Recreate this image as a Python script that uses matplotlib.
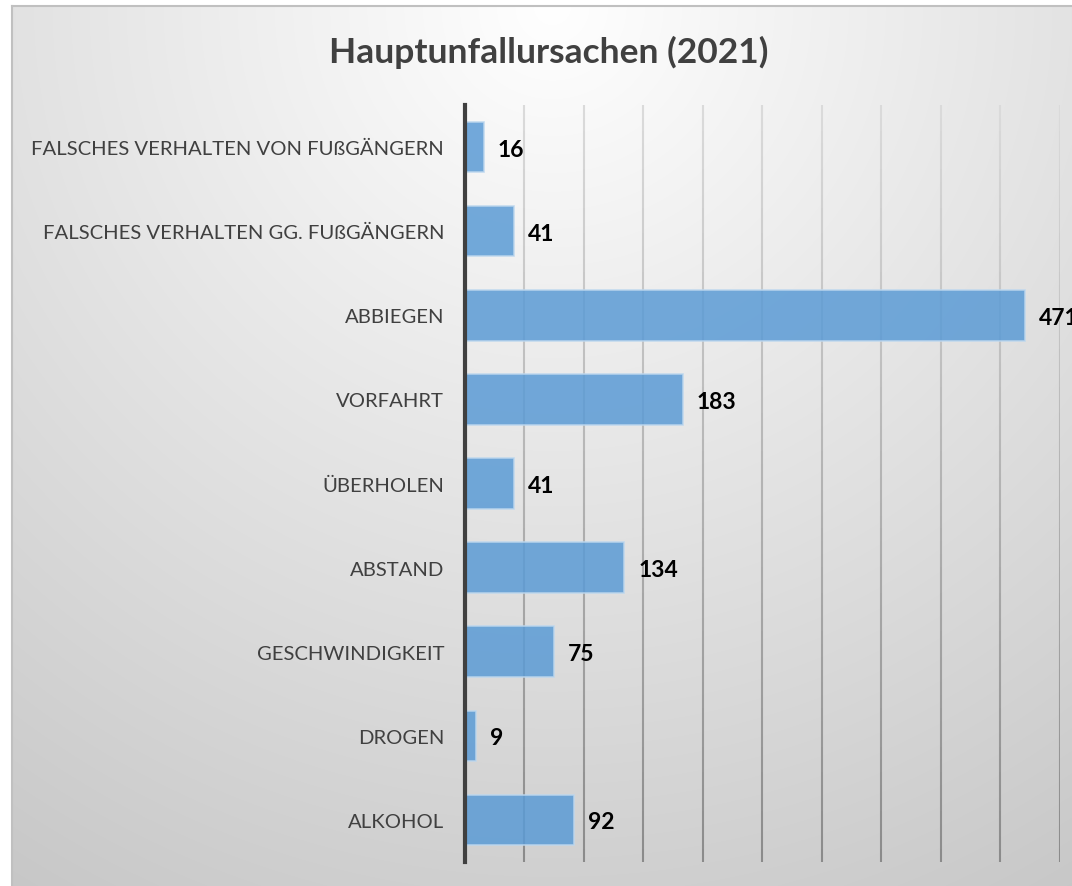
import matplotlib
matplotlib.use("Agg")
import matplotlib.pyplot as plt
from matplotlib.collections import LineCollection
import numpy as np

plt.rcParams['font.family'] = ['Lato', 'DejaVu Sans']

categories = ['FALSCHES VERHALTEN VON FUßGÄNGERN', 'FALSCHES VERHALTEN GG. FUßGÄNGERN',
              'ABBIEGEN', 'VORFAHRT', 'ÜBERHOLEN', 'ABSTAND',
              'GESCHWINDIGKEIT', 'DROGEN', 'ALKOHOL']
values = [16, 41, 471, 183, 41, 134, 75, 9, 92]
title = 'Hauptunfallursachen (2021)'

W, H = 1072, 887
fig = plt.figure(figsize=(W / 100, H / 100), dpi=100)
fig.patch.set_facecolor('white')

# chart area background: radial gradient, white at top centre
bx0, by0 = 12, 7
bg = fig.add_axes([bx0 / W, 0, 1 - bx0 / W, (H - by0) / H])
yy, xx = np.mgrid[0:H - by0, 0:W - bx0]
d = np.sqrt((xx - 540.0) ** 2 + (yy * 1.0) ** 2)
g = np.clip(255 - d * 0.054, 190, 255) / 255.0
bg.imshow(np.dstack([g, g, g]), aspect='auto', interpolation='bilinear')
bg.set_xticks([])
bg.set_yticks([])
for s in ['right', 'bottom']:
    bg.spines[s].set_visible(False)
for s in ['top', 'left']:
    bg.spines[s].set_color('#c0c0c0')
    bg.spines[s].set_linewidth(1.5)

# plot area
left, right = 465, 1059.5
top, bottom = 106, 863
ax = fig.add_axes([left / W, (H - bottom) / H, (right - left) / W, (bottom - top) / H])
ax.patch.set_alpha(0)

y = np.arange(len(categories))
ax.set_ylim(len(categories) - 0.5, -0.5)
ax.set_xlim(0, 500)
ticks = np.arange(50, 501, 50)

# gridlines fade from light grey at the top to darker grey at the bottom
ys = np.linspace(-0.5, len(categories) - 0.5, 60)
segs, cols = [], []
for t in ticks:
    for k in range(len(ys) - 1):
        segs.append([(t, ys[k]), (t, ys[k + 1])])
        f = (ys[k] + 0.5) / len(categories)
        c = (218 - 80 * f) / 255.0
        cols.append((c, c, c))
ax.add_collection(LineCollection(segs, colors=cols, linewidths=1.5, zorder=1))

ax.barh(y, values, height=0.6, color='#5b9bd5', alpha=0.85,
        edgecolor='#bdd7ee', linewidth=1.2, zorder=3)
ax.set_xticks([])
ax.tick_params(axis='y', length=0, pad=15)
ax.set_yticks(y)
ax.set_yticklabels(categories, fontsize=14.6, color='#404040')
for s in ['top', 'right', 'bottom']:
    ax.spines[s].set_visible(False)
ax.spines['left'].set_color('#404040')
ax.spines['left'].set_linewidth(3)
ax.spines['left'].set_zorder(4)

for i, v in enumerate(values):
    ax.annotate(str(v), (v, i), xytext=(14, -2), textcoords='offset pixels',
                ha='left', va='center', fontsize=16.5, fontweight='bold',
                color='black', annotation_clip=False)

fig.text(549 / W, 1 - 52 / H, title, ha='center', va='center',
         fontsize=25.5, fontweight='bold', color='#404040')

fig.savefig('out.png', dpi=100)
